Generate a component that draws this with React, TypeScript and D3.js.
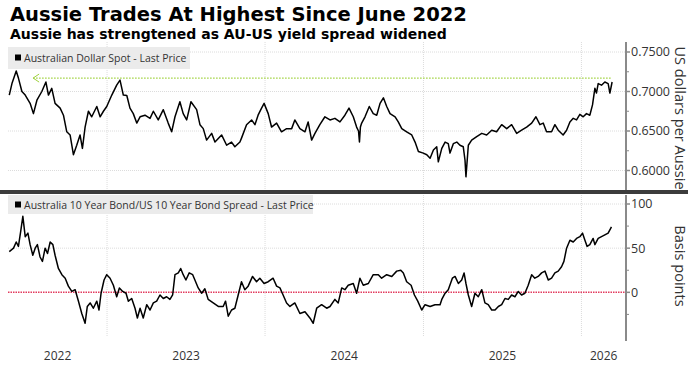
import React from "react";
import * as d3 from "d3";

const TITLE = "Aussie Trades At Highest Since June 2022";
const SUBTITLE = "Aussie has strengtened as AU-US yield spread widened";
const LEGEND_TOP = "Australian Dollar Spot - Last Price";
const LEGEND_BOTTOM = "Australia 10 Year Bond/US 10 Year Bond Spread - Last Price";
const AXIS_TOP = "US dollars per Aussie";
const AXIS_BOTTOM = "Basis points";

const YEARS = [2022, 2023, 2024, 2025, 2026];
const AUD_TICKS = [0.6, 0.65, 0.7, 0.75];
const AUD_MINOR = [0.625, 0.675, 0.725];
const SPREAD_TICKS = [0, 50, 100];
const SPREAD_MINOR = [-25, 25, 75];
const AUD_HIGH = 0.717;
const AUD_HIGH_RANGE = [2022.532, 2026.192];

// dates as decimal years
const AUD_T = [
  2022.381, 2022.398, 2022.425, 2022.439, 2022.461, 2022.482, 2022.513, 2022.534, 2022.556, 2022.587,
  2022.613, 2022.629, 2022.65, 2022.671, 2022.703, 2022.724, 2022.745, 2022.766, 2022.787, 2022.808,
  2022.829, 2022.844, 2022.861, 2022.882, 2022.903, 2022.935, 2022.956, 2022.977, 2022.998, 2023.03,
  2023.061, 2023.082, 2023.103, 2023.125, 2023.145, 2023.166, 2023.188, 2023.209, 2023.24, 2023.272,
  2023.293, 2023.324, 2023.356, 2023.387, 2023.409, 2023.43, 2023.461, 2023.482, 2023.504, 2023.531,
  2023.567, 2023.588, 2023.609, 2023.63, 2023.662, 2023.683, 2023.725, 2023.757, 2023.788, 2023.809,
  2023.841, 2023.851, 2023.883, 2023.915, 2023.936, 2023.956, 2023.978, 2023.994, 2024.02, 2024.041,
  2024.073, 2024.104, 2024.136, 2024.168, 2024.188, 2024.22, 2024.252, 2024.272, 2024.294, 2024.315,
  2024.346, 2024.378, 2024.41, 2024.441, 2024.473, 2024.504, 2024.53, 2024.557, 2024.578, 2024.59,
  2024.596, 2024.602, 2024.61, 2024.631, 2024.658, 2024.683, 2024.705, 2024.726, 2024.747, 2024.768,
  2024.789, 2024.821, 2024.841, 2024.863, 2024.894, 2024.926, 2024.947, 2024.968, 2024.999, 2025.021,
  2025.042, 2025.063, 2025.084, 2025.094, 2025.116, 2025.137, 2025.157, 2025.168, 2025.189, 2025.211,
  2025.231, 2025.252, 2025.263, 2025.269, 2025.284, 2025.305, 2025.337, 2025.369, 2025.4, 2025.432,
  2025.463, 2025.495, 2025.527, 2025.558, 2025.59, 2025.621, 2025.653, 2025.685, 2025.712, 2025.737,
  2025.758, 2025.779, 2025.811, 2025.832, 2025.853, 2025.884, 2025.906, 2025.927, 2025.948, 2025.969,
  2025.99, 2026.011, 2026.032, 2026.053, 2026.07, 2026.085, 2026.095, 2026.106, 2026.127, 2026.148,
  2026.169, 2026.18, 2026.194,
];
const AUD_V = [
  0.6955, 0.71, 0.726, 0.717, 0.7, 0.6955, 0.685, 0.672, 0.689, 0.7,
  0.712, 0.6955, 0.704, 0.685, 0.679, 0.67, 0.649, 0.645, 0.62, 0.632,
  0.645, 0.628, 0.655, 0.675, 0.668, 0.681, 0.668, 0.675, 0.681, 0.6955,
  0.708, 0.7145, 0.6955, 0.695, 0.679, 0.672, 0.66, 0.668, 0.67, 0.666,
  0.675, 0.664, 0.677, 0.66, 0.649, 0.668, 0.687, 0.672, 0.664, 0.687,
  0.677, 0.658, 0.653, 0.6385, 0.647, 0.636, 0.645, 0.632, 0.636, 0.63,
  0.636, 0.641, 0.658, 0.664, 0.658, 0.67, 0.679, 0.685, 0.672, 0.655,
  0.66, 0.649, 0.653, 0.653, 0.664, 0.653, 0.649, 0.6615, 0.6385, 0.647,
  0.658, 0.668, 0.664, 0.666, 0.6615, 0.67, 0.679, 0.668, 0.655, 0.65,
  0.636, 0.655, 0.66, 0.668, 0.681, 0.672, 0.67, 0.685, 0.692, 0.681,
  0.672, 0.668, 0.6615, 0.653, 0.649, 0.645, 0.636, 0.624, 0.622, 0.62,
  0.6155, 0.626, 0.63, 0.611, 0.628, 0.636, 0.634, 0.622, 0.634, 0.636,
  0.632, 0.63, 0.613, 0.592, 0.632, 0.6385, 0.643, 0.647, 0.645, 0.651,
  0.649, 0.658, 0.653, 0.658, 0.647, 0.651, 0.655, 0.66, 0.668, 0.658,
  0.66, 0.649, 0.649, 0.658, 0.651, 0.645, 0.651, 0.6615, 0.666, 0.664,
  0.671, 0.668, 0.672, 0.67, 0.683, 0.704, 0.698, 0.71, 0.708, 0.712,
  0.71, 0.698, 0.712,
];

const SPREAD_T = [
  2022.381, 2022.408, 2022.425, 2022.439, 2022.455, 2022.467, 2022.482, 2022.499, 2022.513, 2022.53,
  2022.545, 2022.559, 2022.576, 2022.591, 2022.608, 2022.623, 2022.64, 2022.657, 2022.671, 2022.692,
  2022.714, 2022.735, 2022.755, 2022.777, 2022.798, 2022.819, 2022.84, 2022.861, 2022.875, 2022.893,
  2022.913, 2022.935, 2022.949, 2022.962, 2022.981, 2022.998, 2023.019, 2023.04, 2023.061, 2023.078,
  2023.099, 2023.12, 2023.135, 2023.156, 2023.177, 2023.192, 2023.209, 2023.229, 2023.251, 2023.272,
  2023.293, 2023.314, 2023.335, 2023.356, 2023.377, 2023.398, 2023.415, 2023.43, 2023.451, 2023.466,
  2023.482, 2023.499, 2023.52, 2023.542, 2023.556, 2023.577, 2023.599, 2023.619, 2023.64, 2023.672,
  2023.704, 2023.735, 2023.75, 2023.767, 2023.788, 2023.809, 2023.83, 2023.851, 2023.872, 2023.893,
  2023.921, 2023.946, 2023.967, 2023.994, 2024.02, 2024.051, 2024.073, 2024.094, 2024.114, 2024.136,
  2024.157, 2024.188, 2024.22, 2024.252, 2024.283, 2024.304, 2024.326, 2024.357, 2024.389, 2024.41,
  2024.441, 2024.462, 2024.484, 2024.504, 2024.525, 2024.557, 2024.578, 2024.599, 2024.62, 2024.652,
  2024.683, 2024.715, 2024.736, 2024.768, 2024.8, 2024.831, 2024.857, 2024.873, 2024.894, 2024.922,
  2024.943, 2024.964, 2024.989, 2025.01, 2025.042, 2025.073, 2025.105, 2025.116, 2025.137, 2025.157,
  2025.183, 2025.2, 2025.221, 2025.242, 2025.257, 2025.269, 2025.284, 2025.305, 2025.326, 2025.347,
  2025.369, 2025.389, 2025.41, 2025.432, 2025.453, 2025.474, 2025.495, 2025.516, 2025.537, 2025.558,
  2025.579, 2025.6, 2025.621, 2025.642, 2025.663, 2025.685, 2025.705, 2025.726, 2025.748, 2025.769,
  2025.79, 2025.811, 2025.832, 2025.853, 2025.874, 2025.889, 2025.906, 2025.927, 2025.948, 2025.969,
  2025.99, 2026.007, 2026.022, 2026.036, 2026.053, 2026.074, 2026.085, 2026.106, 2026.127, 2026.148,
  2026.169, 2026.19,
];
const SPREAD_V = [
  46, 50, 57, 52, 71, 86, 63, 67, 54, 42,
  50, 54, 40, 35, 50, 44, 57, 54, 42, 27,
  20, 16, 7, 1, 3, -10, -24, -35, -16, -12,
  -18, -10, -20, -1, 14, 20, 16, 8, -5, 5,
  1, -1, -10, -7, -18, -29, -18, -29, -14, -20,
  -12, -10, -3, -7, -5, -8, -3, 20, 22, 27,
  20, 14, 22, 20, 14, 5, -1, 4, -8, -12,
  -16, -16, -10, -27, -20, -18, -3, 12, 3, 7,
  18, 12, 16, 10, 12, 16, 7, 5, -3, -12,
  -16, -12, -24, -22, -29, -35, -18, -14, -18, -16,
  -8, -12, 5, 3, 8, 10, -1, 16, 8, 10,
  20, 20, 16, 20, 18, 24, 25, 22, 12, 8,
  -3, -10, -20, -14, -16, -14, -14, -8, -1, 3,
  16, 18, 10, 14, 22, 10, -3, -16, -1, -5,
  3, -12, -14, -20, -20, -16, -14, -7, -8, -3,
  -5, 1, -3, -1, 8, 20, 16, 18, 22, 24,
  14, 16, 22, 24, 29, 35, 50, 59, 57, 61,
  63, 67, 59, 52, 54, 61, 54, 61, 63, 65,
  67, 74,
];

const DOMAIN_START = 2022.373;
const DOMAIN_END = 2026.282;

function toDate(t: number): Date {
  const y = Math.floor(t);
  const s = Date.UTC(y, 0, 1);
  const e = Date.UTC(y + 1, 0, 1);
  return new Date(s + (t - y) * (e - s));
}

const FONT = "'Open Sans', sans-serif";
const TITLE_FONT = "'DejaVu Sans', sans-serif";

export default function App() {
  const left = 8;
  const axisX = 626;
  const x = d3.scaleUtc().domain([toDate(DOMAIN_START), toDate(DOMAIN_END)]).range([left, axisX]);
  const yTop = d3.scaleLinear().domain([0.6, 0.75]).range([170.5, 52]);
  const yBot = d3.scaleLinear().domain([-50, 100]).range([336.5, 204]);

  const topPanel = [42, 190];
  const botPanel = [195, 337];

  const audData = AUD_T.map((t, i) => ({ d: toDate(t), v: AUD_V[i] }));
  const spreadData = SPREAD_T.map((t, i) => ({ d: toDate(t), v: SPREAD_V[i] }));

  const lineTop = d3.line<{ d: Date; v: number }>().x((p) => x(p.d)).y((p) => yTop(p.v));
  const lineBot = d3.line<{ d: Date; v: number }>().x((p) => x(p.d)).y((p) => yBot(p.v));

  const yearBounds = YEARS.slice(1).map((y) => x(toDate(y)));
  const yearLabels = YEARS.map((y) => {
    const a = Math.max(y, DOMAIN_START);
    const b = Math.min(y + 1, DOMAIN_END);
    return { y, cx: (x(toDate(a)) + x(toDate(b))) / 2 };
  });

  const gx0 = x(toDate(AUD_HIGH_RANGE[0]));
  const gx1 = x(toDate(AUD_HIGH_RANGE[1]));
  const gy = yTop(AUD_HIGH);

  const gridColor = "#dcdcdc";
  const textColor = "#333";

  return (
    <svg
      width={696}
      height={365}
      style={{ position: "absolute", left: 0, top: 0, background: "#fff" }}
      xmlns="http://www.w3.org/2000/svg"
    >
      <rect x={0} y={0} width={696} height={365} fill="#fff" />
      <text x={10} y={21} fontFamily={TITLE_FONT} fontWeight="bold" fontSize={19.5} fill="#000">
        {TITLE}
      </text>
      <text x={10} y={38.5} fontFamily={TITLE_FONT} fontWeight="bold" fontSize={14} fill="#000">
        {SUBTITLE}
      </text>

      {/* vertical year gridlines */}
      {yearBounds.map((gx, i) => (
        <g key={"vg" + i}>
          <line x1={gx} x2={gx} y1={topPanel[0]} y2={topPanel[1]} stroke={gridColor} strokeWidth={1} strokeDasharray="1,1" />
          <line x1={gx} x2={gx} y1={botPanel[0]} y2={botPanel[1]} stroke={gridColor} strokeWidth={1} strokeDasharray="1,1" />
        </g>
      ))}

      {/* horizontal gridlines */}
      {AUD_TICKS.map((t) => (
        <line key={"ht" + t} x1={left} x2={axisX} y1={yTop(t)} y2={yTop(t)} stroke={gridColor} strokeWidth={1} strokeDasharray="1,1" />
      ))}
      {SPREAD_TICKS.filter((t) => t !== 0).map((t) => (
        <line key={"hb" + t} x1={left} x2={axisX} y1={yBot(t)} y2={yBot(t)} stroke={gridColor} strokeWidth={1} strokeDasharray="1,1" />
      ))}

      {/* legends */}
      <rect x={8} y={47} width={182} height={22} fill="#ebebeb" />
      <rect x={15} y={54.5} width={6} height={6} fill="#000" />
      <text x={24} y={62} fontFamily={FONT} fontSize={10.5} fill={textColor}>
        {LEGEND_TOP}
      </text>
      <rect x={8} y={195} width={305} height={19} fill="#ebebeb" />
      <rect x={15} y={201.5} width={6} height={6} fill="#000" />
      <text x={24} y={209} fontFamily={FONT} fontSize={10.5} fill={textColor}>
        {LEGEND_BOTTOM}
      </text>

      {/* reference lines */}
      <line x1={gx0} x2={gx1} y1={gy} y2={gy} stroke="#9fd13c" strokeWidth={1.3} strokeDasharray="1.5,1.5" />
      <polyline
        points={`${gx0 + 6},${gy - 4} ${gx0},${gy} ${gx0 + 6},${gy + 4}`}
        fill="none"
        stroke="#9fd13c"
        strokeWidth={1}
      />
      <line x1={left} x2={axisX} y1={yBot(0)} y2={yBot(0)} stroke="#e23b5e" strokeWidth={1.5} strokeDasharray="1.5,1" />

      {/* series */}
      <path d={lineTop(audData) || ""} fill="none" stroke="#000" strokeWidth={1.5} strokeLinejoin="round" />
      <path d={lineBot(spreadData) || ""} fill="none" stroke="#000" strokeWidth={1.5} strokeLinejoin="round" />

      {/* separator */}
      <rect x={0} y={190} width={688} height={4} fill="#3c3c3c" />

      {/* right axis */}
      <line x1={axisX} x2={axisX} y1={topPanel[0]} y2={topPanel[1]} stroke="#8a8a8a" strokeWidth={2} />
      <line x1={axisX} x2={axisX} y1={botPanel[0]} y2={341} stroke="#8a8a8a" strokeWidth={2} />
      {AUD_TICKS.map((t) => (
        <g key={"at" + t}>
          <line x1={axisX} x2={axisX + 4} y1={yTop(t)} y2={yTop(t)} stroke="#8a8a8a" strokeWidth={1.5} />
          <text x={axisX + 5} y={yTop(t)} dy="0.35em" fontFamily={FONT} fontSize={12.5} fill={textColor}>
            {t.toFixed(4)}
          </text>
        </g>
      ))}
      {AUD_MINOR.map((t) => (
        <line key={"am" + t} x1={axisX} x2={axisX + 3} y1={yTop(t)} y2={yTop(t)} stroke="#8a8a8a" strokeWidth={1} />
      ))}
      {SPREAD_TICKS.map((t) => (
        <g key={"st" + t}>
          <line x1={axisX} x2={axisX + 4} y1={yBot(t)} y2={yBot(t)} stroke="#8a8a8a" strokeWidth={1.5} />
          <text x={axisX + 5} y={yBot(t)} dy="0.35em" fontFamily={FONT} fontSize={12.5} fill={textColor}>
            {t}
          </text>
        </g>
      ))}
      {SPREAD_MINOR.map((t) => (
        <line key={"sm" + t} x1={axisX} x2={axisX + 3} y1={yBot(t)} y2={yBot(t)} stroke="#8a8a8a" strokeWidth={1} />
      ))}

      <text
        transform={`translate(680, ${(topPanel[0] + topPanel[1]) / 2 + 2}) rotate(90)`}
        textAnchor="middle"
        dy="0.35em"
        fontFamily={FONT}
        fontSize={14.6}
        fill={textColor}
      >
        {AXIS_TOP}
      </text>
      <text
        transform={`translate(680, ${(botPanel[0] + botPanel[1]) / 2}) rotate(90)`}
        textAnchor="middle"
        dy="0.35em"
        fontFamily={FONT}
        fontSize={14.6}
        fill={textColor}
      >
        {AXIS_BOTTOM}
      </text>

      {/* year labels */}
      {yearLabels.map((l) => (
        <text key={"yl" + l.y} x={l.cx} y={360} textAnchor="middle" fontFamily={FONT} fontSize={12} fill={textColor}>
          {String(l.y)}
        </text>
      ))}
    </svg>
  );
}
